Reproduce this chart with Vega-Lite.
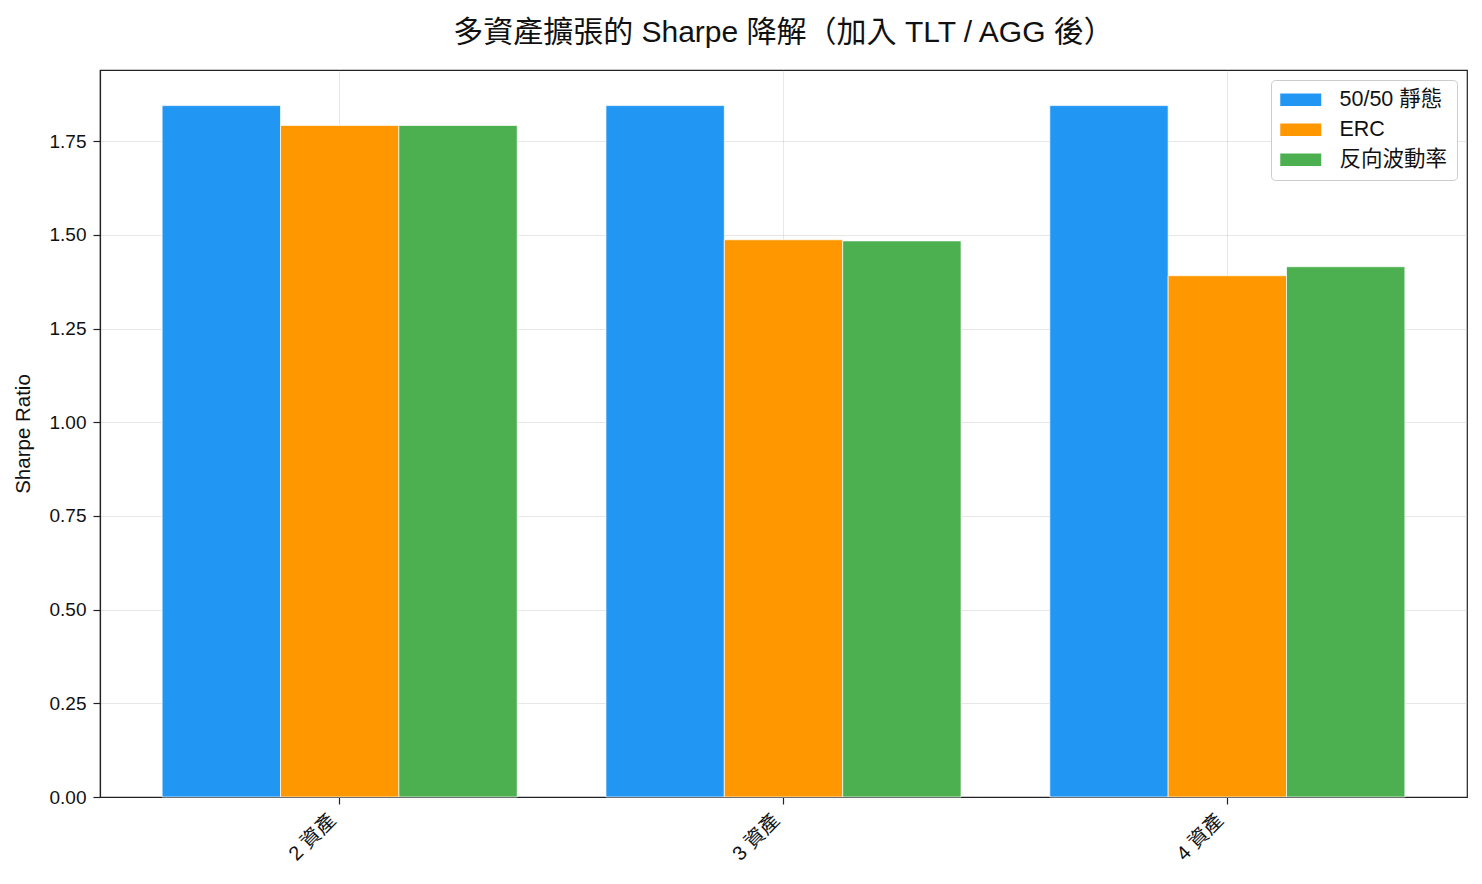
{
  "$schema": "https://vega.github.io/schema/vega-lite/v6.json",
  "width": 1367,
  "height": 727,
  "autosize": {"type": "none"},
  "padding": {"left": 100, "top": 70, "right": 15, "bottom": 87},
  "background": "white",
  "title": {
    "text": "多資產擴張的 Sharpe 降解（加入 TLT / AGG 後）",
    "font": "Liberation Sans, Noto Sans CJK TC",
    "fontSize": 30,
    "fontWeight": "normal",
    "color": "#111",
    "anchor": "middle",
    "offset": 22
  },
  "data": {
    "values": [
      {"group": "2 資產", "strategy": "50/50 靜態", "sharpe": 1.845},
      {"group": "2 資產", "strategy": "ERC", "sharpe": 1.792},
      {"group": "2 資產", "strategy": "反向波動率", "sharpe": 1.792},
      {"group": "3 資產", "strategy": "50/50 靜態", "sharpe": 1.845},
      {"group": "3 資產", "strategy": "ERC", "sharpe": 1.487},
      {"group": "3 資產", "strategy": "反向波動率", "sharpe": 1.484},
      {"group": "4 資產", "strategy": "50/50 靜態", "sharpe": 1.845},
      {"group": "4 資產", "strategy": "ERC", "sharpe": 1.391},
      {"group": "4 資產", "strategy": "反向波動率", "sharpe": 1.415}
    ]
  },
  "mark": {"type": "bar", "stroke": "white", "strokeWidth": 0.7},
  "encoding": {
    "x": {
      "field": "group",
      "type": "nominal",
      "sort": ["2 資產", "3 資產", "4 資產"],
      "scale": {"paddingInner": 0, "paddingOuter": 0.04},
      "axis": {
        "title": null,
        "labelAngle": -45,
        "labelAlign": "right",
        "labelBaseline": "bottom",
        "labelFontSize": 20,
        "labelPadding": 20,
        "bandPosition": 0.5,
        "grid": true
      }
    },
    "xOffset": {
      "field": "strategy",
      "type": "nominal",
      "sort": ["50/50 靜態", "ERC", "反向波動率"],
      "scale": {"paddingInner": 0, "paddingOuter": 0.375}
    },
    "y": {
      "field": "sharpe",
      "type": "quantitative",
      "scale": {"domain": [0, 1.94], "nice": false, "zero": true},
      "axis": {
        "title": "Sharpe Ratio",
        "values": [0, 0.25, 0.5, 0.75, 1.0, 1.25, 1.5, 1.75],
        "format": ".2f",
        "grid": true,
        "titlePadding": 16
      }
    },
    "color": {
      "field": "strategy",
      "type": "nominal",
      "scale": {
        "domain": ["50/50 靜態", "ERC", "反向波動率"],
        "range": ["#2196F3", "#FF9800", "#4CAF50"]
      },
      "legend": {
        "title": null,
        "orient": "top-right",
        "offset": 10,
        "symbolType": "M-4,-1.2L4,-1.2L4,1.2L-4,1.2Z",
        "symbolSize": 105,
        "symbolOffset": 10,
        "symbolStrokeWidth": 0,
        "symbolOpacity": 1,
        "labelFontSize": 21.5,
        "labelFont": "Liberation Sans, Noto Sans CJK TC",
        "labelColor": "#111",
        "labelOffset": 28,
        "rowPadding": 7,
        "padding": 9,
        "fillColor": "white",
        "strokeColor": "#cccccc",
        "cornerRadius": 4
      }
    }
  },
  "config": {
    "font": "Liberation Sans, Noto Sans CJK TC",
    "view": {"stroke": "#222", "strokeWidth": 1.2},
    "axis": {
      "domainColor": "#222",
      "domainWidth": 1.2,
      "tickColor": "#222",
      "tickSize": 7,
      "tickWidth": 1.2,
      "labelFont": "Liberation Sans, Noto Sans CJK TC",
      "labelFontSize": 19,
      "labelColor": "#111",
      "labelPadding": 7,
      "titleFont": "Liberation Sans, Noto Sans CJK TC",
      "titleFontSize": 20.5,
      "titleFontWeight": "normal",
      "titleColor": "#111",
      "gridColor": "#b0b0b0",
      "gridOpacity": 0.3,
      "gridWidth": 1,
      "zindex": 1
    }
  }
}
